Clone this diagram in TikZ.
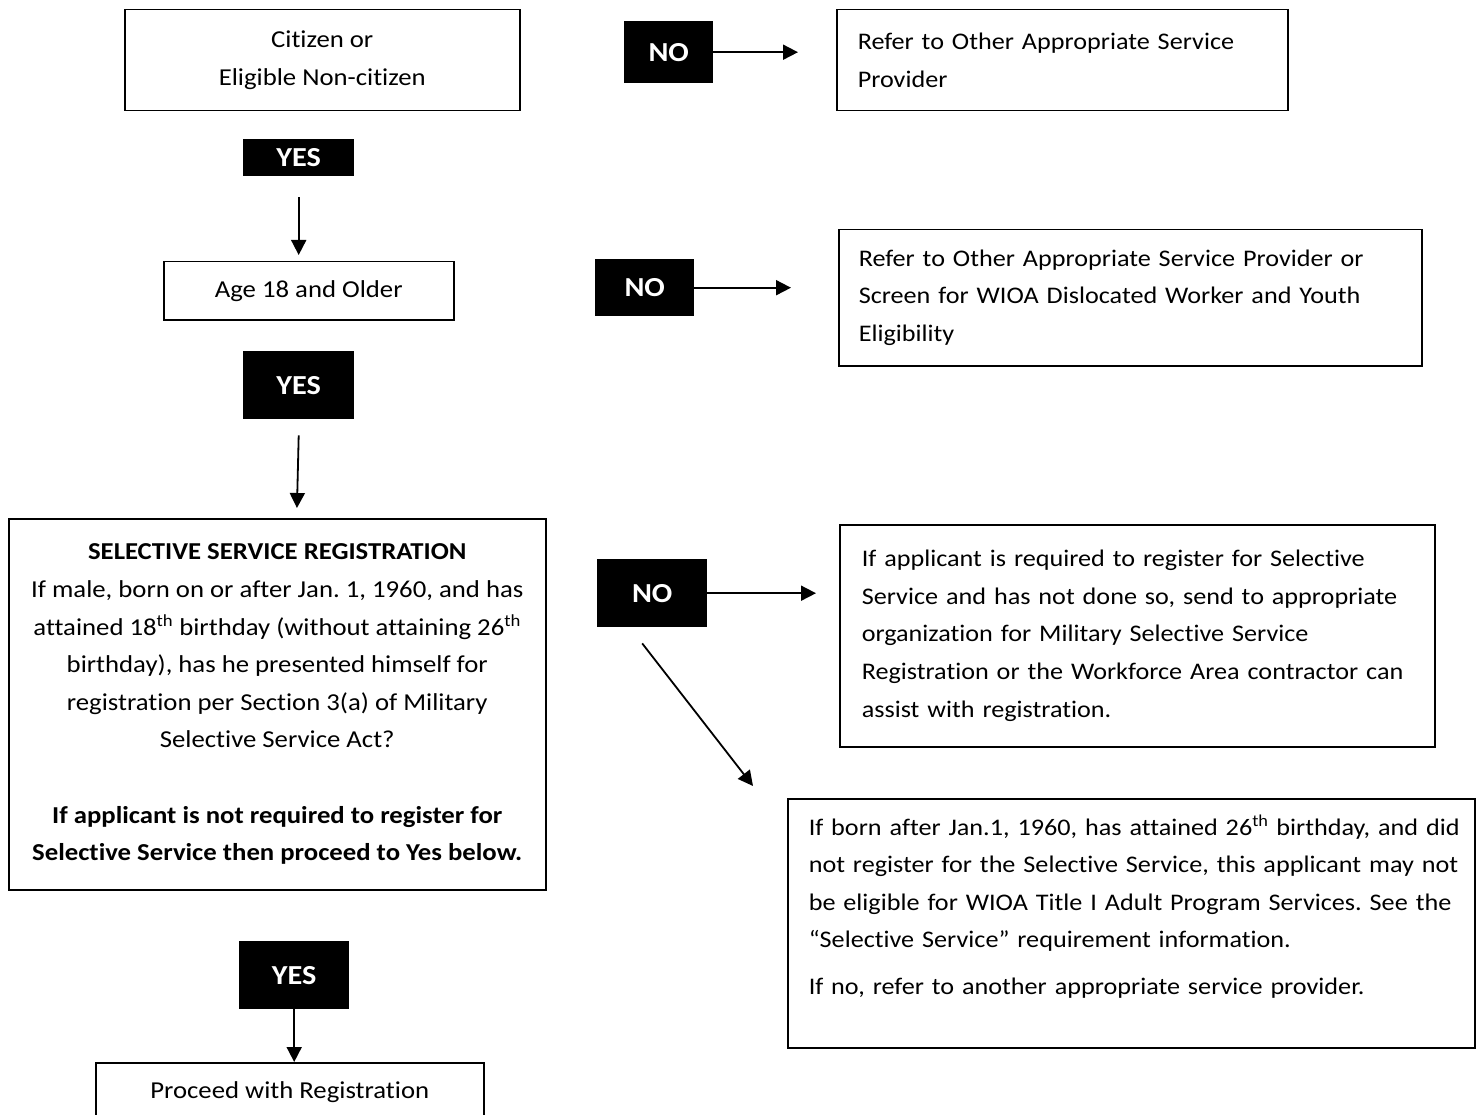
\documentclass[tikz,border=0pt]{standalone}
\usepackage{fontspec}
\setmainfont{Carlito}[FakeStretch=1.1,RawFeature={-liga;-clig;-calt;-dlig}]
\usetikzlibrary{arrows.meta,calc}
\begin{document}
\frenchspacing
\begin{tikzpicture}[x=1pt,y=-1pt,
  box/.style={draw=black, line width=1.5pt, inner sep=0pt, anchor=north west,
    font=\fontsize{24.3}{37.6}\selectfont\frenchspacing},
  lbox/.style={box, align=left, font=\fontsize{23.8}{37.6}\selectfont\frenchspacing},
  cbox/.style={box, align=center},
  tag/.style={fill=black, text=white, inner sep=0pt, anchor=north west,
    font=\fontsize{27.5}{30}\selectfont\bfseries},
  arr/.style={line width=1.8pt, -{Triangle[length=15pt,width=15pt]}}
]
\useasboundingbox (0,0) rectangle (1480,1115);
\fill[white] (0,0) rectangle (1480,1115);

% left column
\node[cbox, minimum width=395pt, minimum height=101pt] (b1) at (124,9)
  {Citizen or\\Eligible Non-citizen};
\node[tag, minimum width=111pt, minimum height=37pt] (y1) at (243,139) {YES};
\node[cbox, minimum width=290pt, minimum height=58pt] (age) at (163,261)
  {Age 18 and Older};
\node[tag, minimum width=111pt, minimum height=68pt] (y2) at (243,351) {YES};
\node[cbox, minimum width=537pt, minimum height=371pt] (ss) at (8,518)
  {\textbf{SELECTIVE SERVICE REGISTRATION}\\
   If male, born on or after Jan. 1, 1960, and has\\
   attained 18\textsuperscript{th} birthday (without attaining 26\textsuperscript{th}\\
   birthday), has he presented himself for\\
   registration per Section 3(a) of Military\\
   Selective Service Act?\\[37.6pt]
   \textbf{If applicant is not required to register for}\\
   \textbf{Selective Service then proceed to Yes below.}};
\node[tag, minimum width=110pt, minimum height=68pt] (y3) at (239,941) {YES};
\node[cbox, minimum width=388pt, minimum height=58pt] (proc) at (95,1062)
  {Proceed with Registration};

% NO tags
\node[tag, minimum width=89pt, minimum height=62pt] (n1) at (624,21) {NO};
\node[tag, minimum width=99pt, minimum height=57pt] (n2) at (595,259) {NO};
\node[tag, minimum width=110pt, minimum height=68pt] (n3) at (597,559) {NO};

% right column
\node[lbox, text width=409pt, inner xsep=21pt, minimum height=101pt] (b2) at (836,9)
  {\mbox{Refer to Other Appropriate Service}\\\mbox{Provider}};
\node[lbox, text width=543pt, inner xsep=20pt, minimum height=136pt] (b3) at (838,229)
  {\mbox{Refer to Other Appropriate Service Provider or}\\
   \mbox{Screen for WIOA Dislocated Worker and Youth}\\
   \mbox{Eligibility}};
\node[lbox, text width=551pt, inner xsep=22pt, minimum height=222pt] (b4) at (839,524)
  {\mbox{If applicant is required to register for Selective}\\
   \mbox{Service and has not done so, send to appropriate}\\
   \mbox{organization for Military Selective Service}\\
   \mbox{Registration or the Workforce Area contractor can}\\
   \mbox{assist with registration.}};
\node[lbox, text width=645pt, inner xsep=21pt, minimum height=249pt] (b5) at (787,798)
  {\mbox{If born after Jan.1, 1960, has attained 26\textsuperscript{th} birthday, and did}\\
   \mbox{not register for the Selective Service, this applicant may not}\\
   \mbox{be eligible for WIOA Title I Adult Program Services. See the}\\
   \mbox{“Selective Service” requirement information.}\\[9pt]
   \mbox{If no, refer to another appropriate service provider.}\\
   \mbox{}};

% connectors
\coordinate (a2e) at ($(y2.south |- ss.north)+(-2,0)$);
\coordinate (dgs) at ($(n3.south)+(-10,16)$);
\coordinate (dge) at ($(b5.north west)+(-34,-12)$);

\draw[arr, shorten >=6pt] ([yshift=-21pt]y1.south) -- (y1.south |- age.north);
\draw[arr, shorten >=10pt] ([yshift=-16pt]y2.south) -- (a2e);
\draw[arr] (y3.south) -- (y3.south |- proc.north);
\draw[arr, shorten >=38pt] (n1.east) -- (n1.east -| b2.west);
\draw[arr, shorten >=47pt] (n2.east) -- (n2.east -| b3.west);
\draw[arr, shorten >=23pt] (n3.east) -- (n3.east -| b4.west);
\draw[arr] (dgs) -- (dge);
\end{tikzpicture}
\end{document}
